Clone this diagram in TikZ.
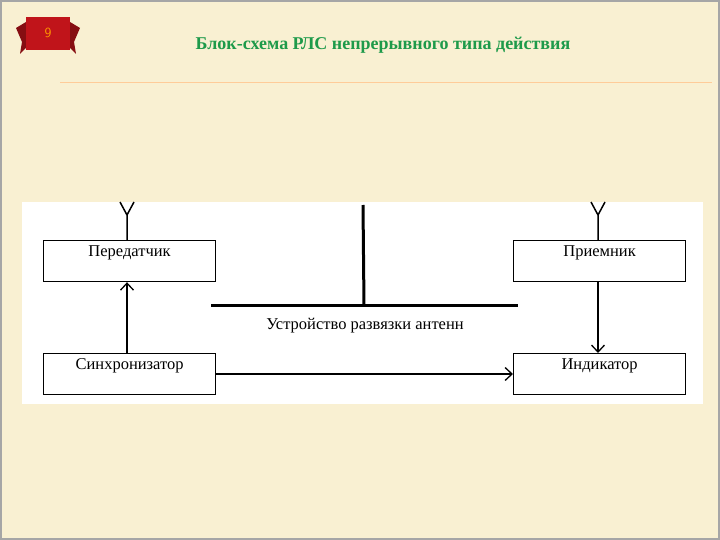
\documentclass[tikz,border=0pt]{standalone}
\usepackage{fontspec}
\setmainfont{Liberation Serif}
\usetikzlibrary{arrows.meta}
\definecolor{bg}{HTML}{F9F0D2}
\definecolor{ttl}{HTML}{1E9A4A}
\definecolor{rib}{HTML}{C0141A}
\tikzset{blk/.style={draw,line width=1.2pt,fill=white,minimum width=172pt,minimum height=41pt,inner sep=0pt,anchor=north west},
 txt/.style={anchor=north,yshift=-2pt,font=\fontsize{16.5}{18}\selectfont},
 arr/.style={line width=1.3pt,-{Straight Barb[length=7pt,width=13pt]}},
 ant/.style={line width=1.5pt}}
\begin{document}
\begin{tikzpicture}[x=1pt,y=-1pt]
\useasboundingbox (0,0) rectangle (720,540);
\fill[bg] (0,0) rectangle (720,540);
\draw[gray!70,line width=1.5pt] (1,1) rectangle (719,539);
% badge
\fill[rib!70!black] (16,28) -- (26,22) -- (26,48) -- (20,54) -- (22,42) -- cycle;
\fill[rib!70!black] (80,28) -- (70,22) -- (70,48) -- (76,54) -- (74,42) -- cycle;
\fill[rib] (26,17) rectangle (70,50);
\node (badge) at (48,33) {\textcolor{orange!80!yellow}{\fontsize{14}{16}\selectfont\sffamily 9}};
\node (title) at (383,45) {\textcolor{ttl}{\bfseries\fontsize{18}{20}\selectfont Блок-схема РЛС непрерывного типа действия}};
\draw[orange!40,line width=1pt] (60,83) -- (712,83);
% panel
\fill[white] (22,202) rectangle (703,404);
\node[blk] (tx) at (43,240) {};
\node[txt] at (tx.north) {Передатчик};
\node[blk] (rx) at (513,240) {};
\node[txt] at (rx.north) {Приемник};
\node[blk] (sy) at (43,353) {};
\node[txt] at (sy.north) {Синхронизатор};
\node[blk] (ind) at (513,353) {};
\node[txt] at (ind.north) {Индикатор};
\coordinate (a1) at (127,215);
\coordinate (a2) at (598,215);
\draw[ant] (tx.north -| a1) -- (a1) -- (120,202) (a1) -- (134,202);
\draw[ant] (rx.north -| a2) -- (a2) -- (591,202) (a2) -- (605,202);
\coordinate (hl) at (211,305);
\coordinate (hr) at (518,305);
\coordinate (vt) at (363,205);
\coordinate (vb) at (364,305);
\draw[line width=3pt] (hl) -- (hr);
\draw[line width=3pt] (vt) -- (vb);
\node[font=\fontsize{16.5}{18}\selectfont] (lab) at (365,326) {Устройство развязки антенн};
\draw[arr] (sy.north -| a1) -- (tx.south -| a1);
\draw[arr] (rx.south -| a2) -- (ind.north -| a2);
\draw[arr] (sy.east |- 0,374) -- (ind.west |- 0,374);
\end{tikzpicture}
\end{document}
